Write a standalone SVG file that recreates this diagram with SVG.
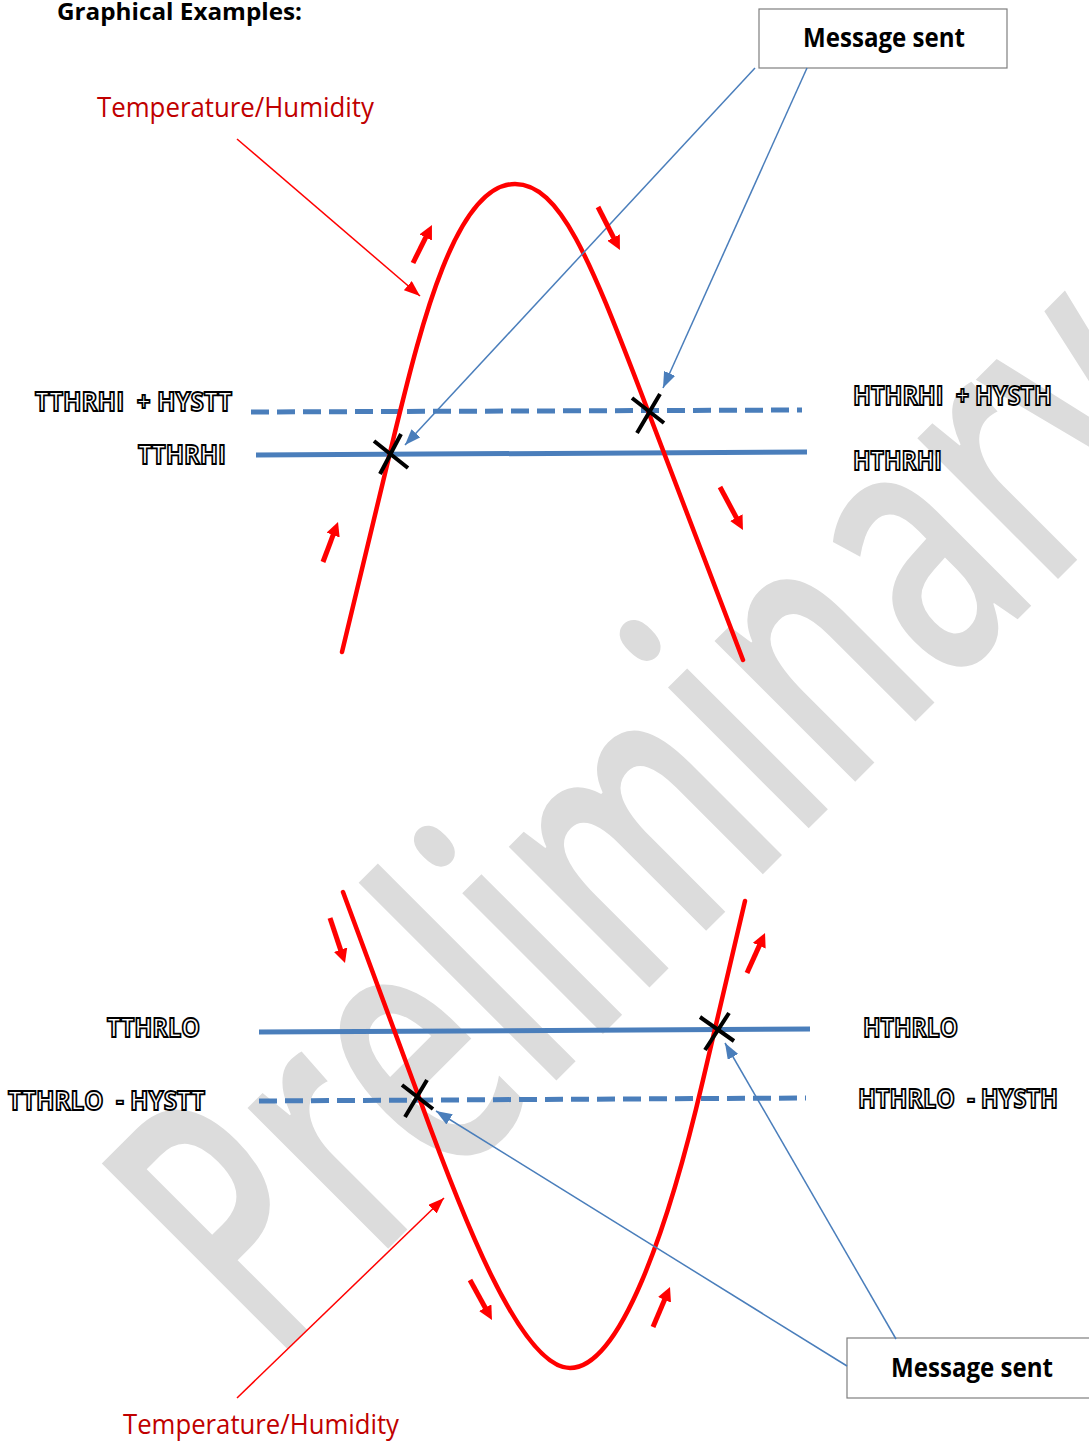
<svg xmlns="http://www.w3.org/2000/svg" width="1089" height="1441" viewBox="0 0 1089 1441">
<defs>
<style>
.wm{font-family:"Open Sans","Noto Sans",sans-serif;font-weight:600;fill:#dcdcdc}
.title{font-family:"Open Sans","Liberation Sans",sans-serif;font-weight:700;font-size:24px;fill:#000}
.red{font-family:"Open Sans","Liberation Sans",sans-serif;font-size:27px;fill:#c00000}
.msg{font-family:"Open Sans","Liberation Sans",sans-serif;font-weight:700;font-size:27px;fill:#000}
.lbl{font-family:"Open Sans","Liberation Sans",sans-serif;font-weight:700;font-size:26px;fill:#fff;stroke:#000;stroke-width:1.8;white-space:pre}
.box{fill:#fff;stroke:#7f7f7f;stroke-width:1.2}
.solid{stroke:#4a7ebb;stroke-width:5;fill:none}
.dash{stroke:#4a7ebb;stroke-width:5;fill:none;stroke-dasharray:18 8}
.curve{stroke:#ff0000;stroke-width:4.5;fill:none;stroke-linecap:round}
.dir{stroke:#ff0000;stroke-width:5;fill:none;marker-end:url(#dirHead)}
.xm{stroke:#000;stroke-width:4;fill:none}
.bp{stroke:#4a7ebb;stroke-width:1.5;fill:none;marker-end:url(#blueHead)}
.rp{stroke:#ff0000;stroke-width:1.5;fill:none;marker-end:url(#redHead)}
</style>
<marker id="dirHead" markerUnits="userSpaceOnUse" viewBox="0 0 14 14" markerWidth="14" markerHeight="14" refX="2" refY="7" orient="auto">
<path d="M0,0 L14,7 L0,14 z" fill="#ff0000"/>
</marker>
<marker id="blueHead" markerUnits="userSpaceOnUse" viewBox="0 0 16 12" markerWidth="16" markerHeight="12" refX="16" refY="6" orient="auto">
<path d="M0,0 L16,6 L0,12 z" fill="#4a7ebb"/>
</marker>
<marker id="redHead" markerUnits="userSpaceOnUse" viewBox="0 0 16 12" markerWidth="16" markerHeight="12" refX="16" refY="6" orient="auto">
<path d="M0,0 L16,6 L0,12 z" fill="#ff0000"/>
</marker>
</defs>
<rect width="1089" height="1441" fill="#fff"/>

<g id="watermark">
<text class="wm" font-size="236" transform="translate(272,1365) rotate(-45) scale(1,1.56)">Preliminary</text>
</g>

<g id="title"><text class="title" x="57" y="20" textLength="245" lengthAdjust="spacingAndGlyphs">Graphical Examples:</text></g>

<g id="threshold-lines">
<line class="dash" x1="251" y1="412" x2="802" y2="410"/>
<line class="solid" x1="256" y1="455" x2="807" y2="452"/>
<line class="solid" x1="259" y1="1032" x2="810" y2="1029"/>
<line class="dash" x1="259" y1="1101" x2="806" y2="1098"/>
</g>

<g id="curve-high"><path class="curve" d="M342,652 L395,432 C420,330 455,184 515,184 C560,184 590,260 640,390 L743,660"/></g>
<g id="curve-low"><path class="curve" d="M343,892 L420,1100 C460,1210 520,1368 570,1368 C620,1368 668,1230 703,1080 L745,901"/></g>

<g id="crossings">
<path class="xm" d="M374,441 L408,468 M401,434 L380,474"/>
<path class="xm" d="M632,398 L664,423 M660,394 L637,433"/>
<path class="xm" d="M402,1085 L433,1109 M427,1080 L405,1117"/>
<path class="xm" d="M700,1017 L734,1041 M729,1013 L705,1050"/>
</g>

<g id="labels">
<text class="lbl" x="35" y="411" textLength="197" lengthAdjust="spacingAndGlyphs">TTHRHI  + HYSTT</text>
<text class="lbl" x="138" y="464" textLength="88" lengthAdjust="spacingAndGlyphs">TTHRHI</text>
<text class="lbl" x="853" y="405" textLength="199" lengthAdjust="spacingAndGlyphs">HTHRHI  + HYSTH</text>
<text class="lbl" x="853" y="470" textLength="89" lengthAdjust="spacingAndGlyphs">HTHRHI</text>
<text class="lbl" x="107" y="1037" textLength="93" lengthAdjust="spacingAndGlyphs">TTHRLO</text>
<text class="lbl" x="8" y="1110" textLength="197" lengthAdjust="spacingAndGlyphs">TTHRLO  - HYSTT</text>
<text class="lbl" x="863" y="1037" textLength="95" lengthAdjust="spacingAndGlyphs">HTHRLO</text>
<text class="lbl" x="858" y="1108" textLength="200" lengthAdjust="spacingAndGlyphs">HTHRLO  - HYSTH</text>
</g>

<g id="temp-label-top"><text class="red" x="97" y="117" textLength="277" lengthAdjust="spacingAndGlyphs">Temperature/Humidity</text></g>
<g id="temp-label-bottom"><text class="red" x="123" y="1434" textLength="276" lengthAdjust="spacingAndGlyphs">Temperature/Humidity</text></g>

<g id="msg-top"><rect class="box" x="759" y="9" width="248" height="59"/><text class="msg" x="803" y="47" textLength="162" lengthAdjust="spacingAndGlyphs">Message sent</text></g>
<g id="msg-bottom"><rect class="box" x="847" y="1338" width="250" height="60"/><text class="msg" x="891" y="1377" textLength="162" lengthAdjust="spacingAndGlyphs">Message sent</text></g>

<g id="connectors">
<line class="bp" x1="755" y1="68" x2="405" y2="445"/>
<line class="bp" x1="807" y1="68" x2="663" y2="388"/>
<line class="bp" x1="847" y1="1366" x2="436" y2="1111"/>
<line class="bp" x1="896" y1="1339" x2="725" y2="1043"/>
<line class="rp" x1="237" y1="139" x2="420" y2="296"/>
<line class="rp" x1="237" y1="1398" x2="444" y2="1198"/>
<line class="dir" x1="413" y1="263" x2="426.6" y2="235.7"/>
<line class="dir" x1="598" y1="207" x2="614.5" y2="239.3"/>
<line class="dir" x1="323" y1="562" x2="333.8" y2="533.2"/>
<line class="dir" x1="720" y1="487" x2="737.3" y2="519.4"/>
<line class="dir" x1="330" y1="918" x2="341.2" y2="951.6"/>
<line class="dir" x1="747" y1="973" x2="760.1" y2="943.9"/>
<line class="dir" x1="470" y1="1280" x2="486.2" y2="1309.5"/>
<line class="dir" x1="653" y1="1327" x2="665.3" y2="1298"/>
</g>
</svg>
